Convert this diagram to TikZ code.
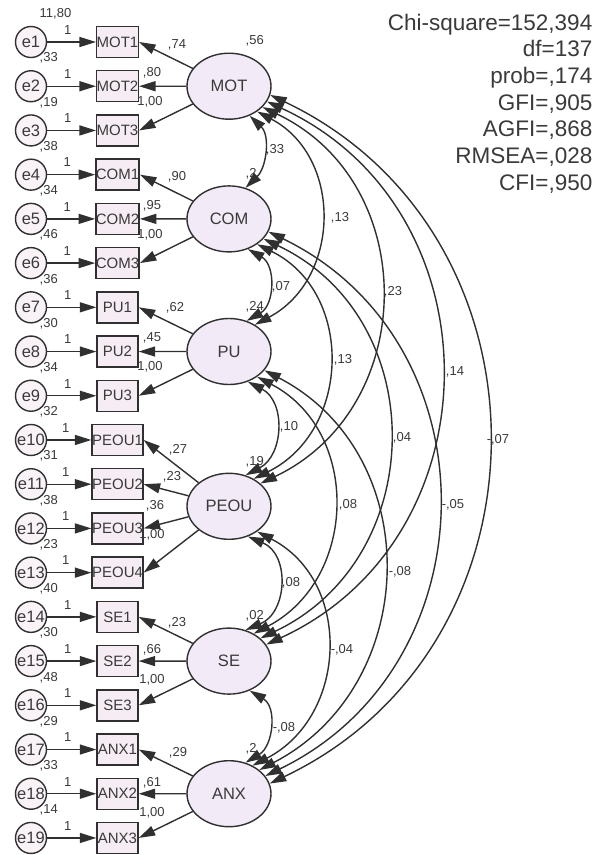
\documentclass[tikz,border=0pt]{standalone}
\usepackage{fontspec}
\setmainfont{Liberation Sans}
\usetikzlibrary{arrows.meta,shapes.geometric}
\definecolor{semLine}{HTML}{303030}
\definecolor{semText}{HTML}{3A3A3A}
\definecolor{semBox}{HTML}{F6ECF4}
\definecolor{semLatent}{HTML}{F2EAF6}

\begin{document}
\begin{tikzpicture}[x=1pt, y=-1pt, line width=1.4pt, color=semLine,
    every node/.style={text=semText},
    >={Triangle[length=16.5pt,width=10pt]},
    errnode/.style={circle, draw=semLine, fill=semBox!70, minimum size=31pt,
      inner sep=0pt, font=\fontsize{16.5}{16.5}\selectfont},
    itembox/.style={rectangle, draw=semLine, fill=semBox, minimum width=41pt,
      minimum height=31pt, inner sep=0pt, font=\fontsize{15}{15}\selectfont},
    latent/.style={ellipse, draw=semLine, fill=semLatent, minimum width=84pt,
      minimum height=66pt, inner sep=0pt, font=\fontsize{16.5}{16.5}\selectfont},
    est/.style={inner sep=0pt, font=\fontsize{13}{13}\selectfont},
    covar/.style={<->}]

    % === Canvas ===
    \fill[white] (0,0) rectangle (599,855);
    \useasboundingbox (0,0) rectangle (599,855);

    % === Fit statistics (top right) ===
    \foreach \stat [count=\k] in {{Chi-square=152,394}, df=137, {prob=,174},
        {GFI=,905}, {AGFI=,868}, {RMSEA=,028}, {CFI=,950}}
      \node[anchor=base east, inner sep=0pt, font=\fontsize{22.5}{22.5}\selectfont]
        (fit\k) at (593, {30+26.7*(\k-1)}) {\stat};

    % === Error terms and observed items ===
    \foreach \i/\ind/\var in {1/MOT1/{11,80}, 2/MOT2/{,33}, 3/MOT3/{,19},
        4/COM1/{,38}, 5/COM2/{,34}, 6/COM3/{,46}, 7/PU1/{,36}, 8/PU2/{,30},
        9/PU3/{,34}, 10/PEOU1/{,32}, 11/PEOU2/{,31}, 12/PEOU3/{,38},
        13/PEOU4/{,23}, 14/SE1/{,40}, 15/SE2/{,30}, 16/SE3/{,48},
        17/ANX1/{,29}, 18/ANX2/{,33}, 19/ANX3/{,14}} {
      \pgfmathsetmacro\ry{42+44.22*(\i-1)}
      \node[est, anchor=west] (v\i) at (39,\ry-28) {\var};
      \node[errnode] (e\i) at (31,\ry) {e\i};
      \node[itembox] (\ind) at (117.5,\ry) {\ind};
      \draw[->] (e\i) -- (\ind) node[est, pos=0.42, above=7pt] (one\i) {1};
    }

    % === Latent factors ===
    \node[latent] (MOT)  at (229,86.2)  {MOT};
    \node[latent] (COM)  at (229,218.9) {COM};
    \node[latent] (PU)   at (229,351.5) {PU};
    \node[latent] (PEOU) at (229,506.3) {PEOU};
    \node[latent] (SE)   at (229,661.1) {SE};
    \node[latent] (ANX)  at (229,793.7) {ANX};

    % === Loadings ===
    \foreach \lat/\ind/\w/\wx/\wy in {MOT/MOT1/{,74}/177/45, MOT/MOT2/{,80}/152/73,
        MOT/MOT3/{1,00}/150/102, COM/COM1/{,90}/177/177, COM/COM2/{,95}/152/206,
        COM/COM3/{1,00}/150/235, PU/PU1/{,62}/175/308, PU/PU2/{,45}/152/338,
        PU/PU3/{1,00}/150/367, PEOU/PEOU1/{,27}/178/450, PEOU/PEOU2/{,23}/172/477,
        PEOU/PEOU3/{,36}/155/506, PEOU/PEOU4/{1,00}/152/535, SE/SE1/{,23}/177/623,
        SE/SE2/{,66}/152/650, SE/SE3/{1,00}/152/680, ANX/ANX1/{,29}/178/753,
        ANX/ANX2/{,61}/152/783, ANX/ANX3/{1,00}/152/813} {
      \node[est] (w-\ind) at (\wx,\wy) {\w};
      \draw[->] (\lat) -- (\ind.east);
    }

    % === Factor variances ===
    \foreach \lat/\var in {MOT/{,56}, COM/{,2}, PU/{,24}, PEOU/{,19}, SE/{,02}, ANX/{,2}}
      \node[est, anchor=west] (var-\lat) at ([xshift=16pt,yshift=45pt]\lat.center) {\var};

    % === Covariances (right side arcs) ===
    % --- neighbours ---
    \draw[covar] (MOT.-55) .. controls +(20.9,20.1) and +(20.9,-20.1) .. (COM.62);
    \draw[covar] (COM.-58) .. controls +(28.1,16.1) and +(28.1,-16.1) .. (PU.60);
    \draw[covar] (PU.-58) .. controls +(38.2,19.9) and +(38.2,-19.9) .. (PEOU.62);
    \draw[covar] (PEOU.-58) .. controls +(42.2,17.7) and +(42.2,-17.7) .. (SE.62);
    \draw[covar] (SE.-55) .. controls +(27.7,16.6) and +(27.7,-16.6) .. (ANX.62);
    % --- two apart ---
    \draw[covar] (MOT.-42) .. controls +(86,45.6) and +(86,-45.6) .. (PU.46);
    \draw[covar] (COM.-42) .. controls +(97.4,48.1) and +(97.4,-48.1) .. (PEOU.48);
    \draw[covar] (PU.-42) .. controls +(104,54.4) and +(104,-54.4) .. (SE.48);
    \draw[covar] (PEOU.-42) .. controls +(95.5,49.5) and +(95.5,-49.5) .. (ANX.50);
    % --- three apart ---
    \draw[covar] (MOT.-32) .. controls +(158.9,75.5) and +(158.9,-75.5) .. (PEOU.36);
    \draw[covar] (COM.-30) .. controls +(168.9,79.9) and +(168.9,-79.9) .. (SE.36);
    \draw[covar] (PU.-28) .. controls +(162.3,84.3) and +(162.3,-84.3) .. (ANX.38);
    % --- outer ---
    \draw[covar] (MOT.-22) .. controls +(232.1,106.9) and +(232.1,-106.9) .. (SE.24);
    \draw[covar] (COM.-18) .. controls +(227.7,110.4) and +(227.7,-110.4) .. (ANX.26);
    \draw[covar] (MOT.-12) .. controls +(290.3,138) and +(290.3,-138) .. (ANX.14);

    \foreach \cx/\cy/\cv [count=\k] in {275/150/{,33}, 281/287/{,07}, 289/427/{,10},
        291/583/{,08}, 284/728/{-,08}, 340/218/{,13}, 343/360/{,13}, 348/505/{,08},
        342/650/{-,04}, 393/292/{,23}, 402/438/{,04}, 400/572/{-,08},
        455/372/{,14}, 453/505/{-,05}, 498/440/{-,07}}
      \node[est] (c\k) at (\cx,\cy) {\cv};
\end{tikzpicture}
\end{document}
